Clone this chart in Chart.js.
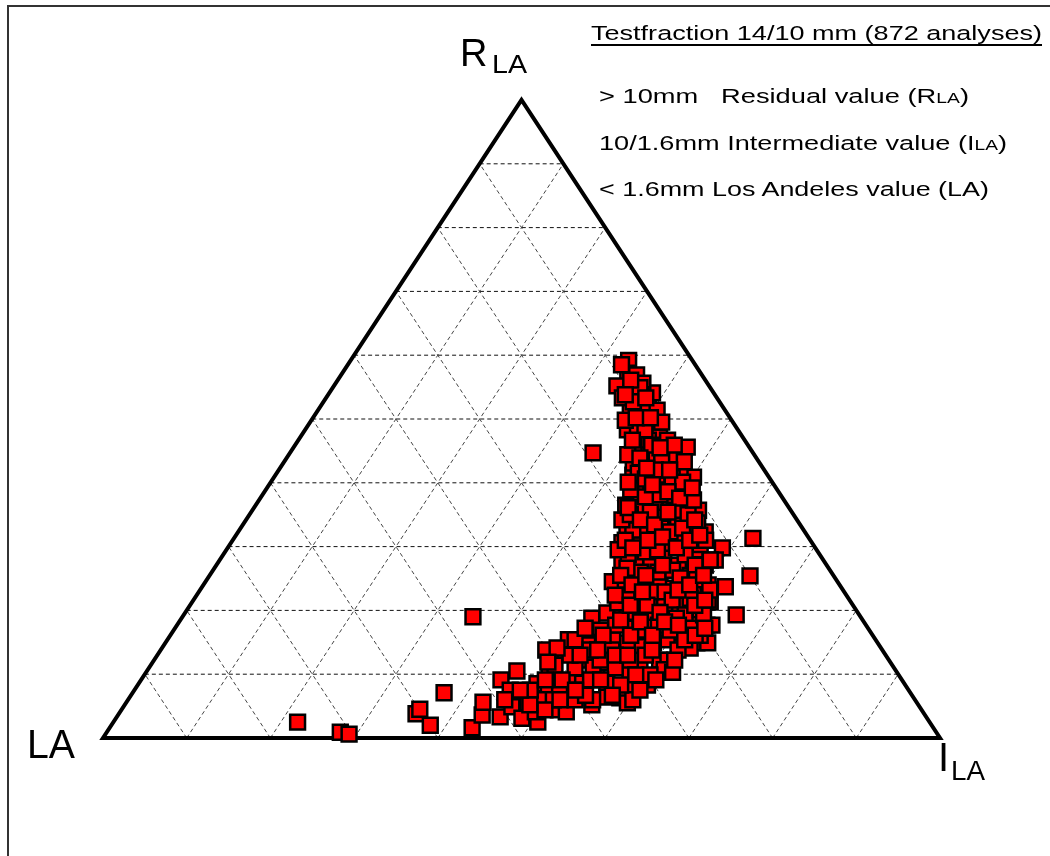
<!DOCTYPE html>
<html>
<head>
<meta charset="utf-8">
<script src="https://cdn.jsdelivr.net/npm/chart.js@4.4.1/dist/chart.umd.min.js"></script>
<style>
    html, body { margin: 0; padding: 0; background: #fff; }
    #wrap { position: relative; width: 1050px; height: 856px; overflow: hidden;
            font-family: "Liberation Sans", Arial, sans-serif; color: #000; }
    #frame { position: absolute; left: 7px; top: 5px; right: -10px; bottom: -10px;
             border-left: 2px solid #333; border-top: 2px solid #333; }
    #ternary { position: absolute; left: 0; top: 0; }
    .lbl { position: absolute; white-space: pre; line-height: 1; transform-origin: 0 0; }
    .lbl small { font-size: 14.5px; }
    .title { text-decoration: underline; text-underline-offset: 4px; text-decoration-thickness: 1.5px; }
</style>
</head>
<body>
<div id="wrap">
    <div id="frame"></div>
    <canvas id="ternary" width="1050" height="856"></canvas>

    <div class="lbl title" data-x="591" data-base="40.7" data-size="20.5" data-w="451">Testfraction 14/10 mm (872 analyses)</div>
    <div class="lbl" data-x="599" data-base="103" data-size="20.5" data-w="370">&gt; 10mm   Residual value (R<small>LA</small>)</div>
    <div class="lbl" data-x="599" data-base="150" data-size="20.5" data-w="408">10/1.6mm Intermediate value (I<small>LA</small>)</div>
    <div class="lbl" data-x="599" data-base="196.7" data-size="20.5" data-w="390">&lt; 1.6mm Los Andeles value (LA)</div>

    <div class="lbl" data-x="460" data-base="66" data-size="38">R</div>
    <div class="lbl" data-x="492" data-base="73.5" data-size="25" data-w="35">LA</div>
    <div class="lbl" data-x="27" data-base="758" data-size="40" data-w="48">LA</div>
    <div class="lbl" data-x="938" data-base="770.5" data-size="40">I</div>
    <div class="lbl" data-x="951" data-base="780.5" data-size="27" data-w="34">LA</div>
</div>

<script>
// residual share R_LA (> 10 mm), in %
const rlaValues = [
    2.5, 0.9, 0.6, 3.8, 4.5, 2.0, 7.1, 1.6, 19.0, 3.6, 5.6, 3.3, 9.1, 4.9, 10.5, 3.1, 5.5, 8.5, 2.5, 13.8,
    7.8, 10.2, 4.4, 13.2, 15.4, 6.4, 4.1, 12.2, 9.1, 18.8, 5.2, 16.9, 15.0, 10.2, 8.6, 6.3, 13.0, 5.5, 8.3, 8.3,
    11.1, 12.2, 12.2, 10.7, 18.2, 14.9, 14.9, 17.7, 21.3, 20.5, 19.6, 19.6, 17.2, 17.4, 18.5, 19.6, 16.5, 15.4, 14.9, 14.3,
    14.9, 15.4, 12.2, 11.8, 11.1, 8.6, 10.3, 9.9, 6.4, 6.0, 6.0, 41.2, 39.3, 37.5, 34.6, 32.4, 32.4, 30.6, 27.6, 24.5,
    21.2, 35.7, 32.3, 29.8, 27.9, 23.7, 21.6, 31.3, 25.4, 19.3, 40.9, 38.4, 33.7, 26.3, 23.7, 21.2, 59.2, 57.2, 55.2, 54.7,
    56.9, 51.4, 48.3, 48.3, 44.7, 45.1, 45.6, 43.1, 43.6, 50.3, 52.5, 54.1, 55.6, 48.7, 47.2, 46.7, 45.1, 43.1, 42.5, 41.5,
    40.9, 41.5, 53.8, 51.4, 49.5, 46.7, 44.4, 44.4, 43.3, 53.3, 45.9, 49.8, 38.9, 39.7, 38.9, 36.5, 37.3, 36.5, 34.2, 34.6,
    33.9, 32.9, 30.3, 31.3, 30.3, 31.0, 29.5, 27.9, 27.1, 28.2, 27.1, 25.5, 24.8, 24.0, 24.8, 23.5, 22.9, 21.6, 21.9, 20.8,
    20.8, 19.3, 23.2, 28.7, 32.6, 36.1, 41.2, 40.8, 30.3, 27.1, 24.0, 17.7, 16.1, 14.1, 13.8, 10.3, 13.8, 14.6, 7.5, 7.5,
    6.0, 11.4, 7.5, 7.5, 15.4, 17.2, 16.9, 17.7, 19.7, 21.9, 34.2, 36.5, 38.9, 44.4, 6.0, 4.1, 6.0,
    58.5, 54.9, 52.7, 48.3, 45.9, 43.9, 43.3, 45.9, 42.0, 40.6, 38.1, 37.8, 40.1, 35.7, 32.9, 35.4, 35.0, 32.3, 28.7, 29.2,
    29.5, 26.3, 26.0, 26.0, 26.6, 27.1, 24.8, 25.1, 22.9, 22.9, 19.7, 20.8, 21.6, 19.3, 20.1, 17.7, 16.9, 17.2, 19.3, 18.5,
    22.4, 25.5, 29.5, 31.0, 35.0, 37.3, 31.0, 27.9, 23.2, 13.0, 12.2, 13.8, 11.0, 12.2, 9.1, 11.0, 9.1, 8.3, 7.5, 9.1,
    6.7, 6.7, 13.0, 14.1, 13.8, 16.1, 16.1, 13.0, 15.4, 12.2, 6.0, 4.4, 5.2, 7.5, 11.9,
    40.1, 39.7, 38.6, 37.6, 39.2, 36.1, 34.2, 33.4, 35.4, 32.9, 34.2, 29.8, 31.0, 31.5, 29.8, 31.0, 31.8, 24.0, 25.5, 27.1,
    23.2, 24.0, 25.5, 22.4, 20.8, 22.9, 19.7, 18.8, 20.8, 21.6, 18.2, 16.1, 18.2, 17.7, 16.1, 17.2, 56.1, 53.8, 53.3, 50.2,
    50.2, 46.7, 45.5, 42.3, 42.0, 9.1, 7.5, 9.1, 6.0, 9.9, 13.0, 13.8, 13.0
];
// intermediate share I_LA (10/1.6 mm), in %; LA = 100 - R - I
const ilaValues = [
    22.0, 27.9, 29.1, 35.5, 35.6, 38.1, 37.2, 43.3, 34.7, 43.5, 42.6, 45.8, 43.0, 46.4, 44.2, 48.5, 48.0, 47.6, 50.7, 46.0,
    49.3, 48.2, 52.2, 48.6, 47.9, 52.4, 53.3, 50.7, 51.9, 49.0, 55.8, 51.0, 52.1, 53.9, 55.9, 58.6, 55.5, 59.9, 59.2, 60.9,
    58.6, 60.4, 61.4, 61.7, 60.7, 63.5, 64.8, 63.3, 61.9, 51.2, 50.4, 52.8, 54.7, 56.3, 57.3, 58.3, 60.7, 59.7, 58.3, 57.0,
    55.2, 53.2, 55.7, 54.3, 53.0, 53.0, 57.8, 60.4, 57.0, 55.5, 60.3, 42.7, 44.3, 45.3, 46.3, 46.4, 48.4, 46.7, 48.2, 48.6,
    50.9, 53.3, 55.8, 59.1, 59.2, 62.5, 61.5, 62.0, 64.6, 66.0, 50.1, 50.9, 54.2, 58.2, 59.7, 60.5, 33.2, 34.1, 33.8, 36.0,
    35.3, 37.3, 38.5, 39.7, 36.2, 41.9, 47.0, 41.8, 43.2, 39.7, 38.9, 38.6, 36.7, 41.7, 42.9, 44.1, 45.0, 47.1, 45.7, 48.2,
    45.0, 43.2, 37.3, 40.5, 42.0, 41.8, 43.9, 45.8, 47.8, 35.4, 40.5, 37.5, 46.0, 47.4, 49.3, 47.7, 49.1, 51.3, 48.0, 49.5,
    51.7, 53.7, 49.1, 50.4, 52.4, 53.8, 56.0, 49.7, 51.9, 52.9, 55.2, 57.4, 50.6, 52.8, 54.1, 56.4, 58.3, 53.1, 54.7, 56.7,
    58.5, 60.8, 50.8, 48.4, 47.0, 46.4, 45.6, 47.6, 56.2, 58.4, 60.3, 63.9, 63.3, 63.1, 61.8, 62.9, 53.9, 50.6, 53.2, 50.8,
    49.2, 48.3, 47.3, 44.9, 48.7, 49.0, 55.7, 52.4, 56.1, 59.2, 44.9, 44.2, 43.6, 40.5, 53.4, 49.6, 45.0,
    32.7, 36.7, 37.0, 40.6, 42.6, 42.2, 45.1, 45.3, 45.0, 44.5, 47.5, 45.9, 49.2, 50.4, 50.2, 47.7, 52.4, 51.6, 55.2, 50.2,
    51.5, 54.9, 53.3, 51.2, 49.3, 57.2, 58.5, 56.4, 54.0, 55.7, 53.8, 54.6, 57.2, 59.9, 61.3, 57.5, 59.3, 61.5, 62.1, 52.6,
    51.4, 49.1, 46.8, 46.9, 45.5, 51.9, 56.5, 58.6, 60.9, 58.3, 56.9, 58.7, 55.7, 53.3, 53.7, 50.9, 50.3, 57.7, 60.4, 61.5,
    57.5, 54.3, 49.3, 47.2, 51.3, 51.7, 55.0, 54.7, 61.8, 62.2, 50.8, 50.6, 48.4, 46.1, 47.2,
    42.7, 45.8, 48.2, 50.1, 50.8, 44.7, 47.1, 49.2, 49.8, 52.8, 53.6, 48.4, 49.6, 51.1, 53.6, 54.6, 55.4, 51.2, 52.1, 53.3,
    57.1, 58.1, 59.0, 50.0, 52.6, 53.0, 56.7, 59.1, 60.3, 61.1, 55.1, 57.6, 58.0, 59.9, 62.7, 63.3, 35.0, 35.5, 38.2, 38.6,
    40.3, 39.9, 43.8, 43.8, 46.7, 54.9, 52.7, 48.3, 51.6, 58.7, 56.2, 52.2, 50.5
];
// grid every 10 %
const gridLevels = [10, 20, 30, 40, 50, 60, 70, 80, 90];

// ternary (R, I) -> plane: x along LA -> I_LA base, y towards the R_LA apex
function toXY(r, i) {
    return { x: i + r / 2, y: r };
}

function lineSet(pts, color, width, dash, order) {
    return {
        type: 'scatter',
        data: pts.map(function (p) { return toXY(p[0], p[1]); }),
        showLine: true,
        borderColor: color,
        borderWidth: width,
        borderDash: dash,
        borderJoinStyle: 'miter',
        pointRadius: 0,
        fill: false,
        clip: false,
        order: order
    };
}

const datasets = [];

datasets.push({
    type: 'scatter',
    label: 'analyses',
    data: rlaValues.map(function (r, idx) { return toXY(r, ilaValues[idx]); }),
    pointStyle: 'rect',
    pointRadius: 10.5,
    backgroundColor: '#ff0000',
    borderColor: '#000000',
    borderWidth: 2.5,
    clip: false,
    order: 0
});

// outer triangle LA -> I_LA -> R_LA -> LA
datasets.push(lineSet([[0, 0], [0, 100], [100, 0], [0, 0], [0, 100]], '#000000', 4, [], 1));

gridLevels.forEach(function (k) {
    datasets.push(lineSet([[k, 0], [k, 100 - k]], '#111111', 1, [4, 3], 2));
    datasets.push(lineSet([[0, k], [100 - k, k]], '#444444', 1, [4, 3], 2));
    datasets.push(lineSet([[0, 100 - k], [100 - k, 0]], '#444444', 1, [4, 3], 2));
});

new Chart(document.getElementById('ternary'), {
    type: 'scatter',
    data: { datasets: datasets },
    options: {
        responsive: false,
        animation: false,
        events: [],
        layout: {
            padding: { left: 103, right: 110, top: 100, bottom: 118 }
        },
        plugins: {
            legend: { display: false },
            tooltip: { enabled: false }
        },
        scales: {
            x: { type: 'linear', min: 0, max: 100, display: false },
            y: { type: 'linear', min: 0, max: 100, display: false }
        }
    }
});

// place texts on their baselines and stretch to the widths in the picture
document.querySelectorAll('.lbl').forEach(function (el) {
    const fs = parseFloat(el.dataset.size);
    el.style.fontSize = fs + 'px';
    el.style.left = el.dataset.x + 'px';
    el.style.top = (parseFloat(el.dataset.base) - 0.8465 * fs) + 'px';
    if (el.dataset.w) {
        const w = el.getBoundingClientRect().width;
        el.style.transform = 'scaleX(' + (parseFloat(el.dataset.w) / w) + ')';
    }
});
</script>
</body>
</html>
